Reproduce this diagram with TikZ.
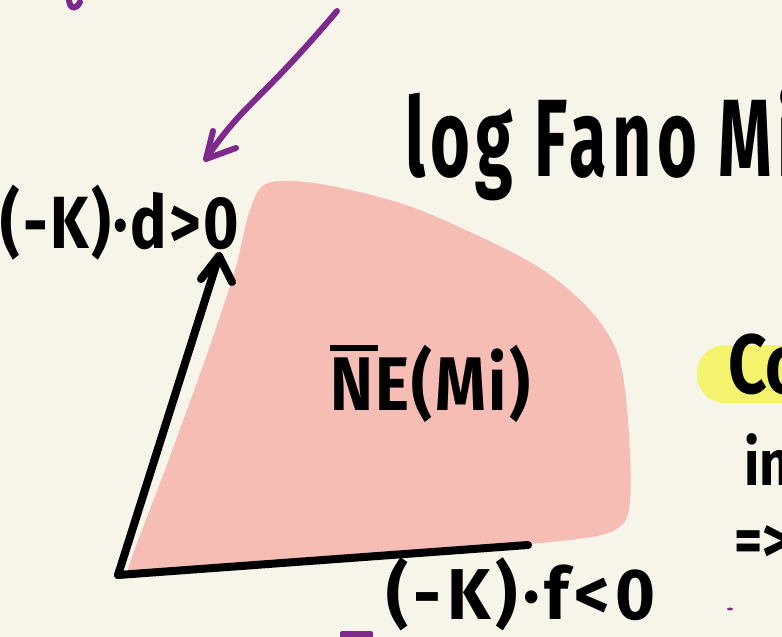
\documentclass[tikz,border=0pt]{standalone}
\usepackage{fontspec}
\setmainfont{Fira Sans}
\definecolor{paper}{HTML}{F7F5EA}
\definecolor{blob}{HTML}{F5BDB3}
\definecolor{ink}{HTML}{000000}
\definecolor{purp}{HTML}{7D2A8C}
\definecolor{hilite}{HTML}{F3F36E}
\tikzset{
  inkline/.style={line width=8pt, line cap=round, line join=round, draw=ink},
  purpline/.style={line width=6pt, line cap=round, line join=round, draw=purp},
  hand/.style={inner sep=0pt, outer sep=0pt, text=ink, font=\mdseries}
}
\begin{document}
\begin{tikzpicture}[x=1pt,y=-1pt]
\useasboundingbox (0,0) rectangle (782,637);
\clip (0,0) rectangle (782,637);
\fill[paper] (0,0) rectangle (782,637);
% pink cone
\fill[blob] plot[smooth cycle, tension=0.55] coordinates {
 (128,570) (165,470) (205,360) (235,270) (250,210) (268,183) (320,184)
 (400,203) (470,232) (540,268) (590,310) (618,355) (628,420) (630,500)
 (618,528) (570,540) (420,552) (260,562) (140,573)};
% yellow highlight
\fill[hilite, rounded corners=28pt] (697,345) rectangle (830,403);
% coordinates
\coordinate (o) at (118,575);
\coordinate (d) at (219,256);
\coordinate (f) at (528,545);
\coordinate (dl) at (201,279);
\coordinate (dr) at (232,282);
\draw[inkline] (o) -- (d);
\draw[inkline] (dl) -- (d) -- (dr);
\draw[inkline] (o) -- (f);
% purple arrow
\coordinate (ps) at (337,11);
\coordinate (pt) at (206,159);
\draw[purpline] (ps) .. controls (300,55) and (270,85) .. (250,105) .. controls (230,125) and (215,145) .. (pt);
\coordinate (pwl) at (213,131);
\coordinate (pwr) at (236,148);
\draw[purpline] (pwl) -- (pt) -- (pwr);
% purple bits
\coordinate (hk1) at (69,0);
\coordinate (hk2) at (80,2);
\draw[purpline] (hk1) .. controls (70,10) and (76,10) .. (hk2);
\fill[purp, rounded corners=2pt] (340,631) rectangle (373,640);
\fill[purp] (730,609) ellipse (3pt and 1.5pt);
% texts
\node[hand, anchor=base west] (lf) at (405,176) {\fontsize{110}{110}\selectfont\bfseries\addfontfeature{LetterSpace=8}\scalebox{0.62}[1]{log Fano Mi}};
\node[hand, anchor=base west] (kd) at (1,248) {\fontsize{74}{74}\selectfont\bfseries\addfontfeature{LetterSpace=4}\scalebox{0.82}[1]{(-K)·d>0}};
\node[hand, anchor=base west] (ne) at (330,410) {\fontsize{76}{76}\selectfont\bfseries\addfontfeature{LetterSpace=4}\scalebox{0.85}[1]{\rlap{\rule[0.78em]{0.75em}{0.08em}}NE(Mi)}};
\node[hand, anchor=base west] (kf) at (386,619) {\fontsize{72}{72}\selectfont\bfseries\addfontfeature{LetterSpace=8}\scalebox{0.95}[1]{(-K)·f<0}};
\node[hand, anchor=base west] (co) at (728,393) {\fontsize{84}{84}\selectfont\bfseries\scalebox{0.8}[1]{Co}};
\node[hand, anchor=base west] (in) at (744,485) {\fontsize{64}{64}\selectfont\bfseries\scalebox{0.85}[1]{in}};
\node[hand, anchor=base west] (imp) at (734,562) {\fontsize{64}{64}\selectfont\bfseries\scalebox{0.85}[1]{=>}};
\end{tikzpicture}
\end{document}
